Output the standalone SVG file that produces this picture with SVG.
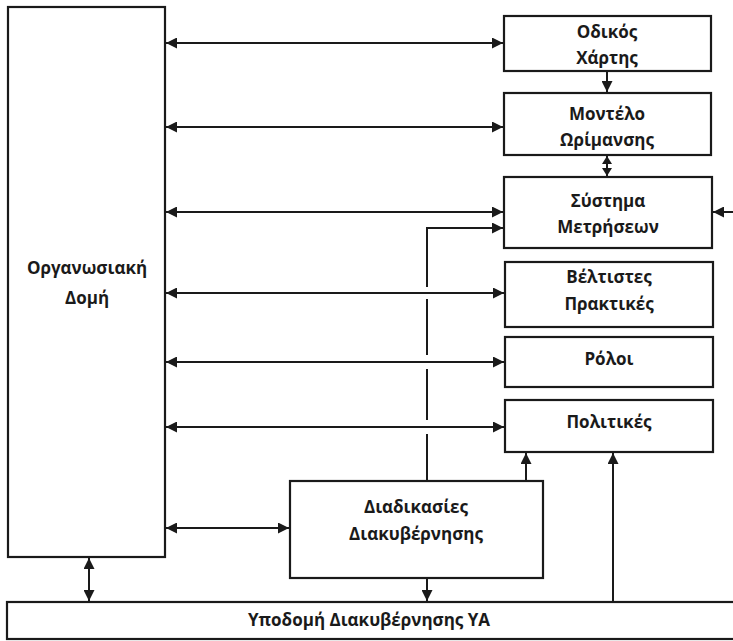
<svg xmlns="http://www.w3.org/2000/svg" width="733" height="641" viewBox="0 0 733 641">
  <style>
    .box { fill: #fff; stroke: #1a1a1a; stroke-width: 2.2; }
    .lbl { font-family: "Open Sans", "Noto Sans", "Liberation Sans", sans-serif; font-weight: bold; font-size: 17px; fill: #1a1a1a; text-anchor: middle; }
    .ln { fill: none; stroke: #1a1a1a; stroke-width: 2; }
  </style>
  <defs>
    <marker id="ah" markerUnits="userSpaceOnUse" markerWidth="11" markerHeight="11" refX="10" refY="5" orient="auto-start-reverse" viewBox="0 0 10 10">
      <path d="M0,0 L10,5 L0,10 z" fill="#1a1a1a"/>
    </marker>
    <marker id="ahs" markerUnits="userSpaceOnUse" markerWidth="9" markerHeight="10" refX="8" refY="5" orient="auto-start-reverse" viewBox="0 0 8 10">
      <path d="M0,0 L8,5 L0,10 z" fill="#1a1a1a"/>
    </marker>
  </defs>
  <rect width="733" height="641" fill="#fff"/>

  <g id="org-structure">
    <rect class="box" x="8" y="7" width="157" height="550"/>
    <text class="lbl" x="87" y="274">Οργανωσιακή</text>
    <text class="lbl" x="87" y="304">Δομή</text>
  </g>

  <g id="roadmap">
    <rect class="box" x="504" y="16" width="207" height="55"/>
    <text class="lbl" x="607" y="38">Οδικός</text>
    <text class="lbl" x="607" y="64">Χάρτης</text>
  </g>

  <g id="maturity-model">
    <rect class="box" x="504" y="93" width="207" height="62"/>
    <text class="lbl" x="607" y="120">Μοντέλο</text>
    <text class="lbl" x="607" y="146">Ωρίμανσης</text>
  </g>

  <g id="metrics">
    <rect class="box" x="504" y="177" width="208" height="71"/>
    <text class="lbl" x="608" y="207">Σύστημα</text>
    <text class="lbl" x="608" y="233">Μετρήσεων</text>
  </g>

  <g id="best-practices">
    <rect class="box" x="505" y="262" width="208" height="65"/>
    <text class="lbl" x="609" y="283">Βέλτιστες</text>
    <text class="lbl" x="609" y="310">Πρακτικές</text>
  </g>

  <g id="roles">
    <rect class="box" x="505" y="337" width="208" height="50"/>
    <text class="lbl" x="609" y="365">Ρόλοι</text>
  </g>

  <g id="policies">
    <rect class="box" x="505" y="400" width="208" height="52"/>
    <text class="lbl" x="609" y="428">Πολιτικές</text>
  </g>

  <g id="governance-processes">
    <rect class="box" x="290" y="481" width="253" height="97"/>
    <text class="lbl" x="416" y="513">Διαδικασίες</text>
    <text class="lbl" x="416" y="540">Διακυβέρνησης</text>
  </g>

  <g id="governance-infrastructure">
    <rect class="box" x="7" y="602" width="740" height="37"/>
    <text class="lbl" x="369" y="626">Υποδομή Διακυβέρνησης ΥΑ</text>
  </g>

  <g id="connectors">
    <!-- two-way links from the organisational structure -->
    <line class="ln" x1="166" y1="43" x2="503" y2="43" marker-start="url(#ah)" marker-end="url(#ah)"/>
    <line class="ln" x1="166" y1="127" x2="503" y2="127" marker-start="url(#ah)" marker-end="url(#ah)"/>
    <line class="ln" x1="166" y1="212" x2="503" y2="212" marker-start="url(#ah)" marker-end="url(#ah)"/>
    <line class="ln" x1="166" y1="293" x2="504" y2="293" marker-start="url(#ah)" marker-end="url(#ah)"/>
    <line class="ln" x1="166" y1="362" x2="504" y2="362" marker-start="url(#ah)" marker-end="url(#ah)"/>
    <line class="ln" x1="166" y1="427" x2="504" y2="427" marker-start="url(#ah)" marker-end="url(#ah)"/>
    <line class="ln" x1="166" y1="528" x2="289" y2="528" marker-start="url(#ah)" marker-end="url(#ah)"/>
    <line class="ln" x1="89" y1="558" x2="89" y2="601" marker-start="url(#ah)" marker-end="url(#ah)"/>

    <!-- right column chain -->
    <line class="ln" x1="607" y1="72" x2="607" y2="92" marker-end="url(#ah)"/>
    <line class="ln" x1="607" y1="156" x2="607" y2="176" marker-start="url(#ahs)" marker-end="url(#ahs)"/>
    <line class="ln" x1="733" y1="212" x2="713" y2="212" marker-end="url(#ah)"/>

    <!-- processes to metrics, broken where it crosses -->
    <polyline class="ln" points="427,287 427,228 503,228" marker-end="url(#ah)"/>
    <line class="ln" x1="427" y1="299" x2="427" y2="355"/>
    <line class="ln" x1="427" y1="369" x2="427" y2="420"/>
    <line class="ln" x1="427" y1="434" x2="427" y2="480"/>

    <!-- into policies -->
    <line class="ln" x1="526" y1="480" x2="526" y2="453" marker-end="url(#ah)"/>
    <line class="ln" x1="613" y1="601" x2="613" y2="453" marker-end="url(#ah)"/>

    <!-- processes to infrastructure -->
    <line class="ln" x1="427" y1="579" x2="427" y2="601" marker-end="url(#ah)"/>
  </g>
</svg>
